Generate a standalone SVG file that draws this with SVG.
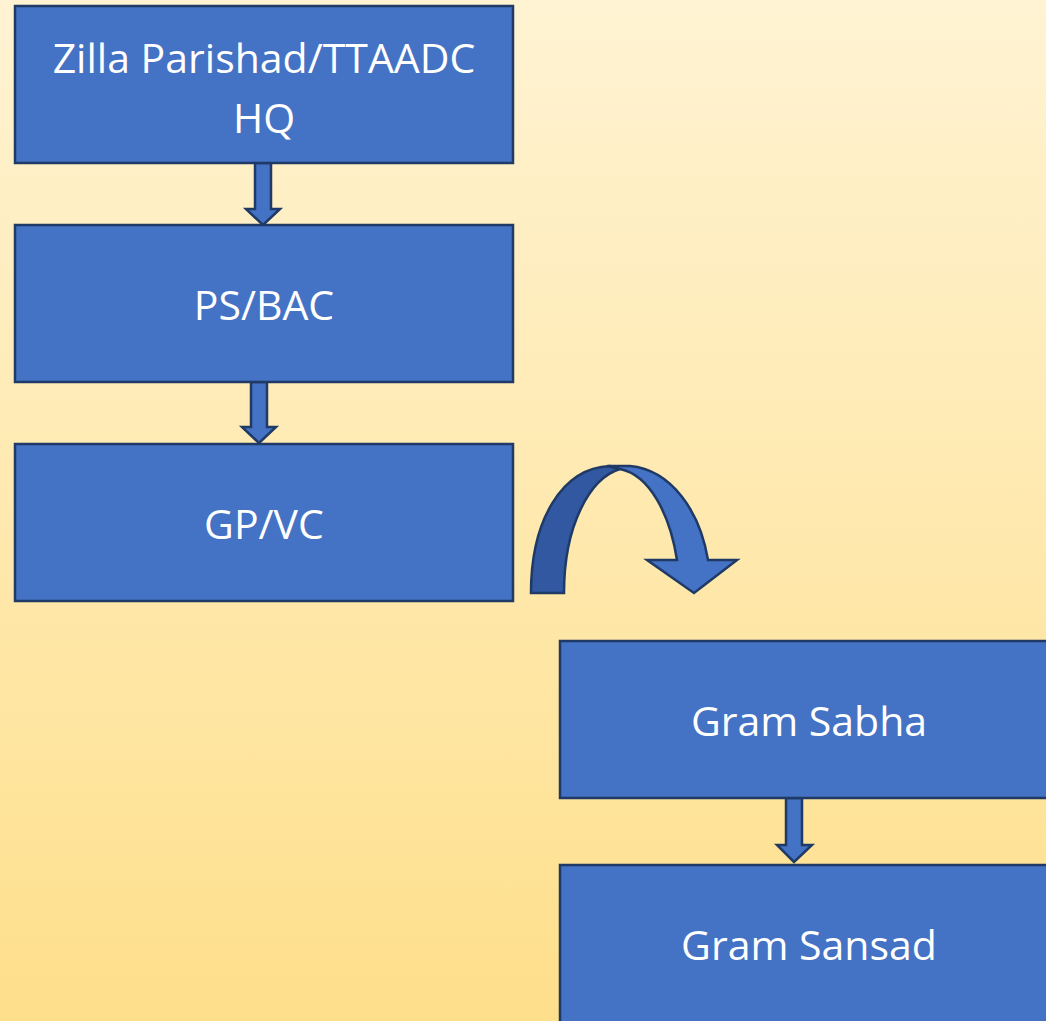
<svg xmlns="http://www.w3.org/2000/svg" width="1046" height="1021" viewBox="0 0 1046 1021">
<defs>
<linearGradient id="bg" x1="0" y1="0" x2="0" y2="1">
<stop offset="0" stop-color="#FFF3D3"/>
<stop offset="1" stop-color="#FEDF8B"/>
</linearGradient>
<style>
.box{fill:#4472C4;stroke:#1F3A66;stroke-width:2.5}
.lbl{fill:#FFFFFF;font-family:"Open Sans","Liberation Sans",sans-serif;font-size:41px;text-anchor:middle}
.arr{fill:#4472C4;stroke:#1F3A66;stroke-width:2.5;stroke-linejoin:miter}
.back{fill:#3158A0;stroke:#1F3A66;stroke-width:2.5}
</style>
</defs>
<rect x="0" y="0" width="1046" height="1021" fill="url(#bg)"/>
<g id="connectors">
<path class="arr" d="M255,163 L271,163 L271,209 L280,209 L263,225 L246,209 L255,209 Z"/>
<path class="arr" d="M251,382 L267,382 L267,427 L276,427 L259,443 L242,427 L251,427 Z"/>
<path class="arr" d="M786,798 L802,798 L802,845 L812,845 L794,862 L777,845 L786,845 Z"/>
<g id="curved-arrow">
<path class="back" d="M531,593 C531,520 562,468 610,466 L620,469 C590,478 564,525 564,593 Z"/>
<path class="arr" d="M607,466 L630,466 C672,470 700,512 708,560 L737,560 L694,593 L647,560 L677,560 C670,515 650,475 620,469 Z"/>
</g>
</g>
<g id="node-zilla">
<rect class="box" x="15" y="6" width="498" height="157"/>
<text class="lbl" x="264" y="73">Zilla Parishad/TTAADC</text>
<text class="lbl" x="264" y="133">HQ</text>
</g>
<g id="node-ps">
<rect class="box" x="15" y="225" width="498" height="157"/>
<text class="lbl" x="264" y="320">PS/BAC</text>
</g>
<g id="node-gp">
<rect class="box" x="15" y="444" width="498" height="157"/>
<text class="lbl" x="264" y="539">GP/VC</text>
</g>
<g id="node-sabha">
<rect class="box" x="560" y="641" width="498" height="157"/>
<text class="lbl" x="809" y="736">Gram Sabha</text>
</g>
<g id="node-sansad">
<rect class="box" x="560" y="865" width="498" height="160"/>
<text class="lbl" x="809" y="960">Gram Sansad</text>
</g>
</svg>
